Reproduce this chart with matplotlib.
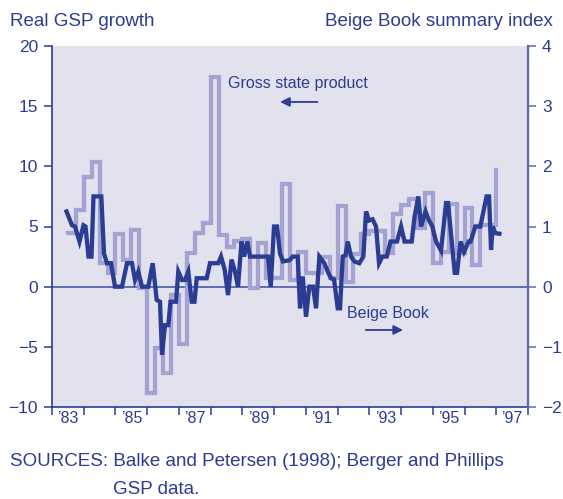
import numpy as np
import matplotlib
matplotlib.use("Agg")
import matplotlib.pyplot as plt

plt.rcParams['font.family'] = ['Liberation Sans', 'DejaVu Sans']

# gross state product growth, quarterly (left axis)
gsp_start = 1983.5
gsp_growth = [4.5, 6.4, 9.1, 10.4, 2.0, 1.1, 4.4, 2.2, 4.7, -0.1,
              -8.8, -5.1, -7.2, -0.7, -4.8, 2.8, 4.5, 5.3, 17.4, 4.3,
              3.3, 3.8, 4.0, -0.1, 3.6, 0.7, 0.7, 8.5, 0.55, 2.9,
              1.1, 1.1, 2.5, 0.7, 6.7, 0.4, 2.7, 4.4, 4.6, 4.6,
              2.8, 6.0, 6.8, 7.3, 4.9, 7.8, 2.0, 2.9, 6.9, 2.8,
              6.5, 1.8, 5.1, 5.1, 9.7]

# Beige Book summary index (right axis), read as pixel x -> value
beige_px = [66.5, 72, 75, 79.5, 83.5, 85.5, 88.5, 91.5, 93.5, 101.3,
            104, 107, 111, 115, 122, 127, 132, 135, 138.3, 142,
            148.3, 152.7, 156.7, 160, 162, 165, 168.3, 170.5, 176, 178.3,
            182, 185, 188.3, 191.7, 194.5, 196.7, 206.7, 210, 218.3, 221,
            224.7, 228, 231.5, 235, 238, 241.5, 244, 247.3, 250, 268,
            270.7, 274, 277, 280, 283, 289.7, 292.7, 297.7, 300, 302.7,
            306, 309.3, 313, 316, 319.3, 324.3, 327.7, 331, 334, 337.7,
            340, 342.7, 345.5, 347.7, 351, 354.3, 359.3, 363.3, 366, 369,
            372.5, 376, 379, 382.3, 386.7, 390.5, 397, 401, 404.5, 411.7,
            414.5, 418.3, 421, 425.5, 429, 432.3, 436, 441, 446, 448,
            454.7, 457, 460.5, 464, 468.7, 470.5, 475.3, 480.3, 486.5, 489,
            491, 492.7, 495.3, 499.3]
beige_index = [1.25, 1.02, 1.0, 0.75, 1.02, 1.0, 0.5, 0.5, 1.5, 1.5,
               0.55, 0.39, 0.39, 0.0, 0.0, 0.39, 0.39, 0.11, 0.25, 0.0,
               0.0, 0.39, -0.22, -0.25, -1.13, -0.64, -0.64, -0.25, -0.25, 0.25,
               0.11, 0.11, 0.25, -0.25, -0.25, 0.14, 0.14, 0.39, 0.39, 0.5,
               0.28, -0.14, 0.45, 0.25, 0.0, 0.75, 0.5, 0.75, 0.5, 0.5,
               0.0, 1.0, 1.0, 0.55, 0.42, 0.44, 0.5, 0.5, -0.36, 0.17,
               -0.5, 0.0, 0.0, -0.36, 0.5, 0.39, 0.25, 0.14, 0.12, -0.36,
               -0.36, 0.5, 0.52, 0.75, 0.5, 0.42, 0.39, 0.5, 1.25, 1.1,
               1.12, 1.0, 0.39, 0.5, 0.5, 0.75, 0.75, 1.0, 0.75, 0.75,
               1.16, 1.5, 1.0, 1.25, 1.1, 1.0, 0.75, 0.6, 1.39, 1.39,
               0.23, 0.23, 0.75, 0.58, 0.75, 0.75, 1.0, 1.0, 1.5, 1.5,
               0.61, 1.0, 0.89, 0.88]

year_labels = ["\u201983", "\u201985", "\u201987", "\u201989",
               "\u201991", "\u201993", "\u201995", "\u201997"]

navy = '#2b3c93'
light = '#a3a2d2'
bg = '#e2e2ef'

gsp_x = gsp_start + 0.25 * np.arange(len(gsp_growth))
beige_x = 1983 + (np.array(beige_px) - 52) / 31.73

fig = plt.figure(figsize=(5.63, 4.99), dpi=100)
ax = fig.add_axes([52 / 563, 1 - 407 / 499, 476 / 563, 361 / 499])
ax.set_facecolor(bg)
ax2 = ax.twinx()

ax.axhline(0, color='#3d4d9d', lw=1.1, zorder=1)
ax.plot(gsp_x, gsp_growth, drawstyle='steps-post', color=light, lw=3.1,
        solid_joinstyle='miter', zorder=2)
ax2.plot(beige_x, beige_index, color=navy, lw=3.1, solid_joinstyle='miter')

ax.set_xlim(1983, 1998)
ax.set_ylim(-10, 20)
ax2.set_ylim(-2, 4)
ax.set_yticks([-10, -5, 0, 5, 10, 15, 20])
ax2.set_yticks([-2, -1, 0, 1, 2, 3, 4])

ax.set_xticks(np.arange(1983, 1999))
ax.set_xticklabels([])
ax.set_xticks(np.arange(1983.5, 1998, 2), minor=True)
ax.set_xticklabels(year_labels, minor=True)
ax.tick_params(axis='x', which='major', length=6, width=1.1, color=navy)
ax.tick_params(axis='x', which='minor', length=0, pad=3, labelsize=11.5, labelcolor=navy)
ax.tick_params(axis='y', length=6, width=1.1, color=navy, labelsize=12.5, labelcolor=navy, pad=4)
ax2.tick_params(axis='y', length=6, width=1.1, color='#5a69b0', labelsize=12.5, labelcolor=navy, pad=4)

for a in (ax, ax2):
    a.spines['top'].set_visible(False)
ax.spines['left'].set_color(navy)
ax.spines['bottom'].set_color(navy)
ax.spines['left'].set_linewidth(1.2)
ax.spines['bottom'].set_linewidth(1.2)
ax2.spines['left'].set_visible(False)
ax2.spines['bottom'].set_visible(False)
ax2.spines['right'].set_color('#5a69b0')
ax2.spines['right'].set_linewidth(1.6)

ax.text(1988.55, 16.9, 'Gross state product', color=navy, fontsize=11.5, va='center')
ax.annotate('', xy=(1990.1, 15.35), xytext=(1991.45, 15.35),
            arrowprops=dict(arrowstyle='-|>', color=navy, lw=1.3, mutation_scale=14))
ax.text(1992.3, -2.2, 'Beige Book', color=navy, fontsize=11.5, va='center')
ax.annotate('', xy=(1994.15, -3.6), xytext=(1992.8, -3.6),
            arrowprops=dict(arrowstyle='-|>', color=navy, lw=1.3, mutation_scale=14))

fig.text(10 / 563, 1 - 21 / 499, 'Real GSP growth', color=navy, fontsize=13.5, va='center')
fig.text(553 / 563, 1 - 21 / 499, 'Beige Book summary index', color=navy, fontsize=13.5,
         va='center', ha='right')
fig.text(10 / 563, 1 - 462 / 499, 'SOURCES: Balke and Petersen (1998); Berger and Phillips',
         color=navy, fontsize=13.5, va='center')
fig.text(113 / 563, 1 - 490 / 499, 'GSP data.', color=navy, fontsize=13.5, va='center')

fig.savefig('out.png', dpi=100)
